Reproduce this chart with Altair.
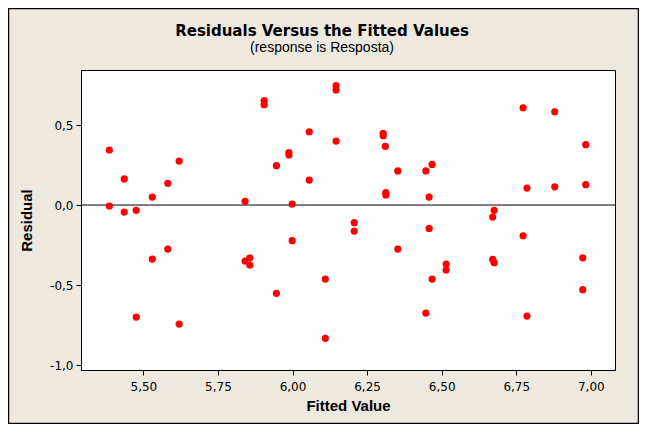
import altair as alt
import pandas as pd

# Data
fitted = [5.386, 5.386, 5.436, 5.436, 5.476, 5.476, 5.530, 5.530, 5.582, 5.582,
          5.620, 5.620, 5.841, 5.841, 5.857, 5.857, 5.905, 5.905, 5.946, 5.946,
          5.988, 5.988, 5.999, 5.999, 6.056, 6.056, 6.110, 6.110, 6.146, 6.146,
          6.146, 6.207, 6.207, 6.304, 6.304, 6.311, 6.313, 6.313, 6.353, 6.353,
          6.447, 6.447, 6.458, 6.458, 6.468, 6.468, 6.515, 6.515, 6.671, 6.676,
          6.671, 6.676, 6.773, 6.773, 6.786, 6.786, 6.879, 6.879, 6.983, 6.983,
          6.973, 6.973]
residual = [0.344, -0.006, 0.163, -0.044, -0.033, -0.700, 0.050, -0.338, 0.136, -0.275,
            0.275, -0.744, 0.023, -0.350, -0.330, -0.375, 0.652, 0.627, 0.246, -0.552,
            0.327, 0.313, 0.006, -0.223, 0.458, 0.156, -0.463, -0.833, 0.746, 0.719,
            0.400, -0.110, -0.163, 0.448, 0.433, 0.367, 0.077, 0.063, 0.213, -0.275,
            0.213, -0.675, 0.050, -0.146, 0.254, -0.463, -0.369, -0.406, -0.340, -0.360,
            -0.075, -0.033, 0.608, -0.192, 0.106, -0.694, 0.583, 0.114, 0.377, 0.127,
            -0.330, -0.529]
x_ticks = [5.50, 5.75, 6.00, 6.25, 6.50, 6.75, 7.00]
y_ticks = [-1.0, -0.5, 0.0, 0.5]
x_domain = [5.291, 7.081]
y_domain = [-1.031, 0.844]

df = pd.DataFrame({"fitted": fitted, "residual": residual})

x_scale = alt.Scale(domain=x_domain, nice=False, zero=False)
y_scale = alt.Scale(domain=y_domain, nice=False, zero=False)

points = alt.Chart(df).mark_circle(color="#FF0000", opacity=1, size=52).encode(
    x=alt.X("fitted:Q", scale=x_scale,
            axis=alt.Axis(title="Fitted Value", values=x_ticks,
                          labelExpr="replace(format(datum.value, '.2f'), '.', ',')")),
    y=alt.Y("residual:Q", scale=y_scale,
            axis=alt.Axis(title="Residual", values=y_ticks,
                          labelExpr="replace(replace(format(datum.value, '.1f'), '.', ','), '\u2212', '-')")),
)

zero = alt.Chart(pd.DataFrame({"z": [0]})).mark_rule(color="#000000", strokeWidth=1).encode(
    y=alt.Y("z:Q", scale=y_scale)
)

frame = alt.Chart(pd.DataFrame({"a": [0]})).mark_rect(
    fillOpacity=0, stroke="#000000", strokeWidth=1.5
).encode(
    x=alt.value(-72.5), x2=alt.value(557.5), y=alt.value(-61.5), y2=alt.value(353.5)
)

chart = alt.layer(frame, zero, points).properties(
    width=534,
    height=300,
    autosize=alt.AutoSizeParams(type="none"),
    padding={"left": 73, "top": 62, "right": 24, "bottom": 54},
    background="#EDE9DF",
    title=alt.Title(
        text="Residuals Versus the Fitted Values",
        subtitle="(response is Resposta)",
        font="DejaVu Sans", fontSize=15, fontWeight="bold", color="#000000",
        subtitleFont="Liberation Sans", subtitleFontSize=14, subtitleColor="#000000",
        subtitlePadding=2, anchor="middle", frame="group", dx=-26, offset=12, dy=59,
    ),
).configure_view(
    stroke="#000000", strokeWidth=1, fill="#FFFFFF"
).configure_axis(
    grid=False, domainColor="#000000", tickColor="#000000", tickSize=5,
    labelFont="DejaVu Sans", labelFontSize=12, labelColor="#000000",
    titleFont="Liberation Sans", titleFontSize=15, titleFontWeight="bold", titleColor="#000000",
).configure_axisX(
    labelPadding=6, titlePadding=6
).configure_axisY(
    labelPadding=3, titlePadding=15
)

chart.save("out.html", embed_options={"renderer": "svg", "actions": False})
